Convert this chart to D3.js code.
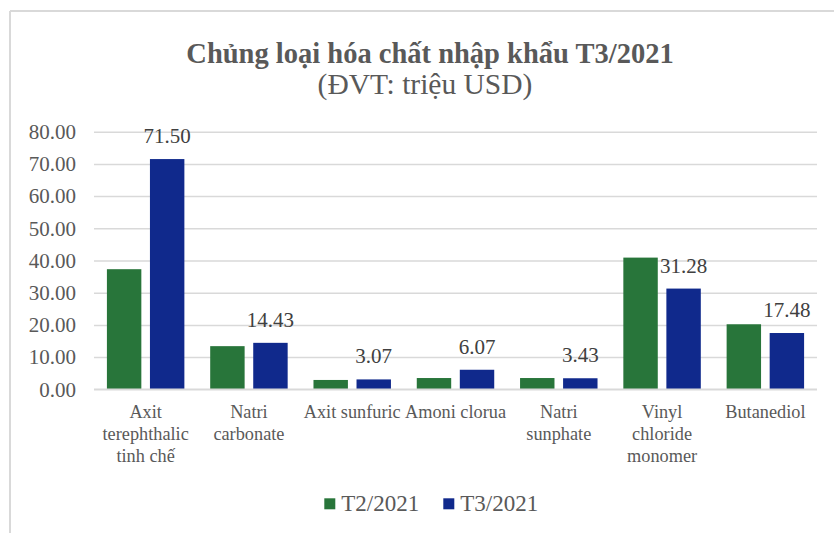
<!DOCTYPE html>
<html>
<head>
<meta charset="utf-8">
<script src="https://cdn.jsdelivr.net/npm/d3@7"></script>
<style>
  html, body { margin: 0; padding: 0; background: #fff; }
  svg { display: block; }
  svg text { font-family: "Liberation Serif", "Times New Roman", serif !important; }
</style>
</head>
<body>
<svg id="chart" width="834" height="533"></svg>
<script>
const categories = ["Axit terephthalic tinh chế", "Natri carbonate", "Axit sunfuric", "Amoni clorua", "Natri sunphate", "Vinyl chloride monomer", "Butanediol"];
const seriesNames = ["T2/2021", "T3/2021"];
const valuesT2 = [37.3, 13.4, 2.9, 3.5, 3.5, 40.9, 20.2];
const valuesT3 = [71.50, 14.43, 3.07, 6.07, 3.43, 31.28, 17.48];
const yTicks = [0, 10, 20, 30, 40, 50, 60, 70, 80];
const titleText = "Chủng loại hóa chất nhập khẩu T3/2021";
const subtitleText = "(ĐVT: triệu USD)";

const colors = {"T2/2021": "#28753A", "T3/2021": "#10298C"};
const svg = d3.select("#chart");

// outer border (top + left visible)
svg.append("line").attr("x1", 10).attr("y1", 11).attr("x2", 834).attr("y2", 11)
  .attr("stroke", "#d9d9d9").attr("stroke-width", 2);
svg.append("line").attr("x1", 10).attr("y1", 11).attr("x2", 10).attr("y2", 533)
  .attr("stroke", "#d9d9d9").attr("stroke-width", 2);

// titles
svg.append("text").attr("x", 430).attr("y", 63).attr("text-anchor", "middle")
  .attr("font-size", 28.5).attr("font-weight", "bold").attr("fill", "#595959").text(titleText);
svg.append("text").attr("x", 425).attr("y", 94).attr("text-anchor", "middle")
  .attr("font-size", 29.5).attr("fill", "#595959").text(subtitleText);

const plotLeft = 94, plotRight = 817, plotTop = 131.7, plotBottom = 389.3;
const x0 = d3.scaleBand().domain(categories).range([plotLeft, plotRight]).paddingInner(0).paddingOuter(0);
const x1 = d3.scaleBand().domain(seriesNames).range([0, x0.bandwidth()]).paddingInner(0.2).paddingOuter(0.3);
const y = d3.scaleLinear().domain([0, 80]).range([plotBottom, plotTop]);

// gridlines + y ticks
const yAxis = d3.axisLeft(y).tickValues(yTicks).tickSize(-(plotRight - plotLeft)).tickFormat(d3.format(".2f")).tickPadding(18);
const gy = svg.append("g").attr("transform", `translate(${plotLeft},0)`).call(yAxis)
  .attr("font-family", null).attr("font-size", null);
gy.select(".domain").remove();
gy.selectAll(".tick line").attr("stroke", "#d9d9d9").attr("stroke-width", 1.5);
gy.selectAll(".tick text").attr("font-size", 21).attr("fill", "#595959");

// bars
const data = categories.map((c, i) => ({cat: c, vals: [
  {s: seriesNames[0], v: valuesT2[i]}, {s: seriesNames[1], v: valuesT3[i]}]}));
const groups = svg.append("g").selectAll("g").data(data).join("g")
  .attr("transform", d => `translate(${x0(d.cat)},0)`);
groups.selectAll("rect").data(d => d.vals).join("rect")
  .attr("x", d => x1(d.s)).attr("width", x1.bandwidth())
  .attr("y", d => y(d.v)).attr("height", d => y(0) - y(d.v))
  .attr("fill", d => colors[d.s]);

// data labels for T3
groups.append("text")
  .attr("x", x1(seriesNames[1]) + x1.bandwidth() / 2)
  .attr("y", d => y(d.vals[1].v) - 16)
  .attr("text-anchor", "middle").attr("font-size", 21).attr("fill", "#404040")
  .text(d => d3.format(".2f")(d.vals[1].v));

// baseline
svg.append("line").attr("x1", plotLeft).attr("x2", plotRight).attr("y1", y(0)).attr("y2", y(0))
  .attr("stroke", "#d9d9d9").attr("stroke-width", 1.5);

// category labels with wrapping
const xAxisG = svg.append("g");
categories.forEach(c => {
  const cx = x0(c) + x0.bandwidth() / 2;
  const t = xAxisG.append("text").attr("text-anchor", "middle").attr("font-size", 18.3).attr("fill", "#595959");
  const words = c.split(" ");
  let lines = [], line = [];
  const probe = xAxisG.append("text").attr("font-size", 18.3);
  words.forEach(w => {
    const test = line.concat([w]).join(" ");
    probe.text(test);
    if (line.length && probe.node().getComputedTextLength() > x0.bandwidth() + 1) {
      lines.push(line.join(" ")); line = [w];
    } else line.push(w);
  });
  lines.push(line.join(" "));
  probe.remove();
  lines.forEach((l, i) => {
    t.append("tspan").attr("x", cx).attr("y", 418 + i * 22).text(l);
  });
});

// legend
const legend = svg.append("g");
const legendX = [324.3, 443.3];
seriesNames.forEach((s, i) => {
  legend.append("rect").attr("x", legendX[i]).attr("y", 498.3).attr("width", 11).attr("height", 11).attr("fill", colors[s]);
  legend.append("text").attr("x", legendX[i] + 17).attr("y", 510.5).attr("font-size", 23).attr("fill", "#595959").text(s);
});
</script>
</body>
</html>
